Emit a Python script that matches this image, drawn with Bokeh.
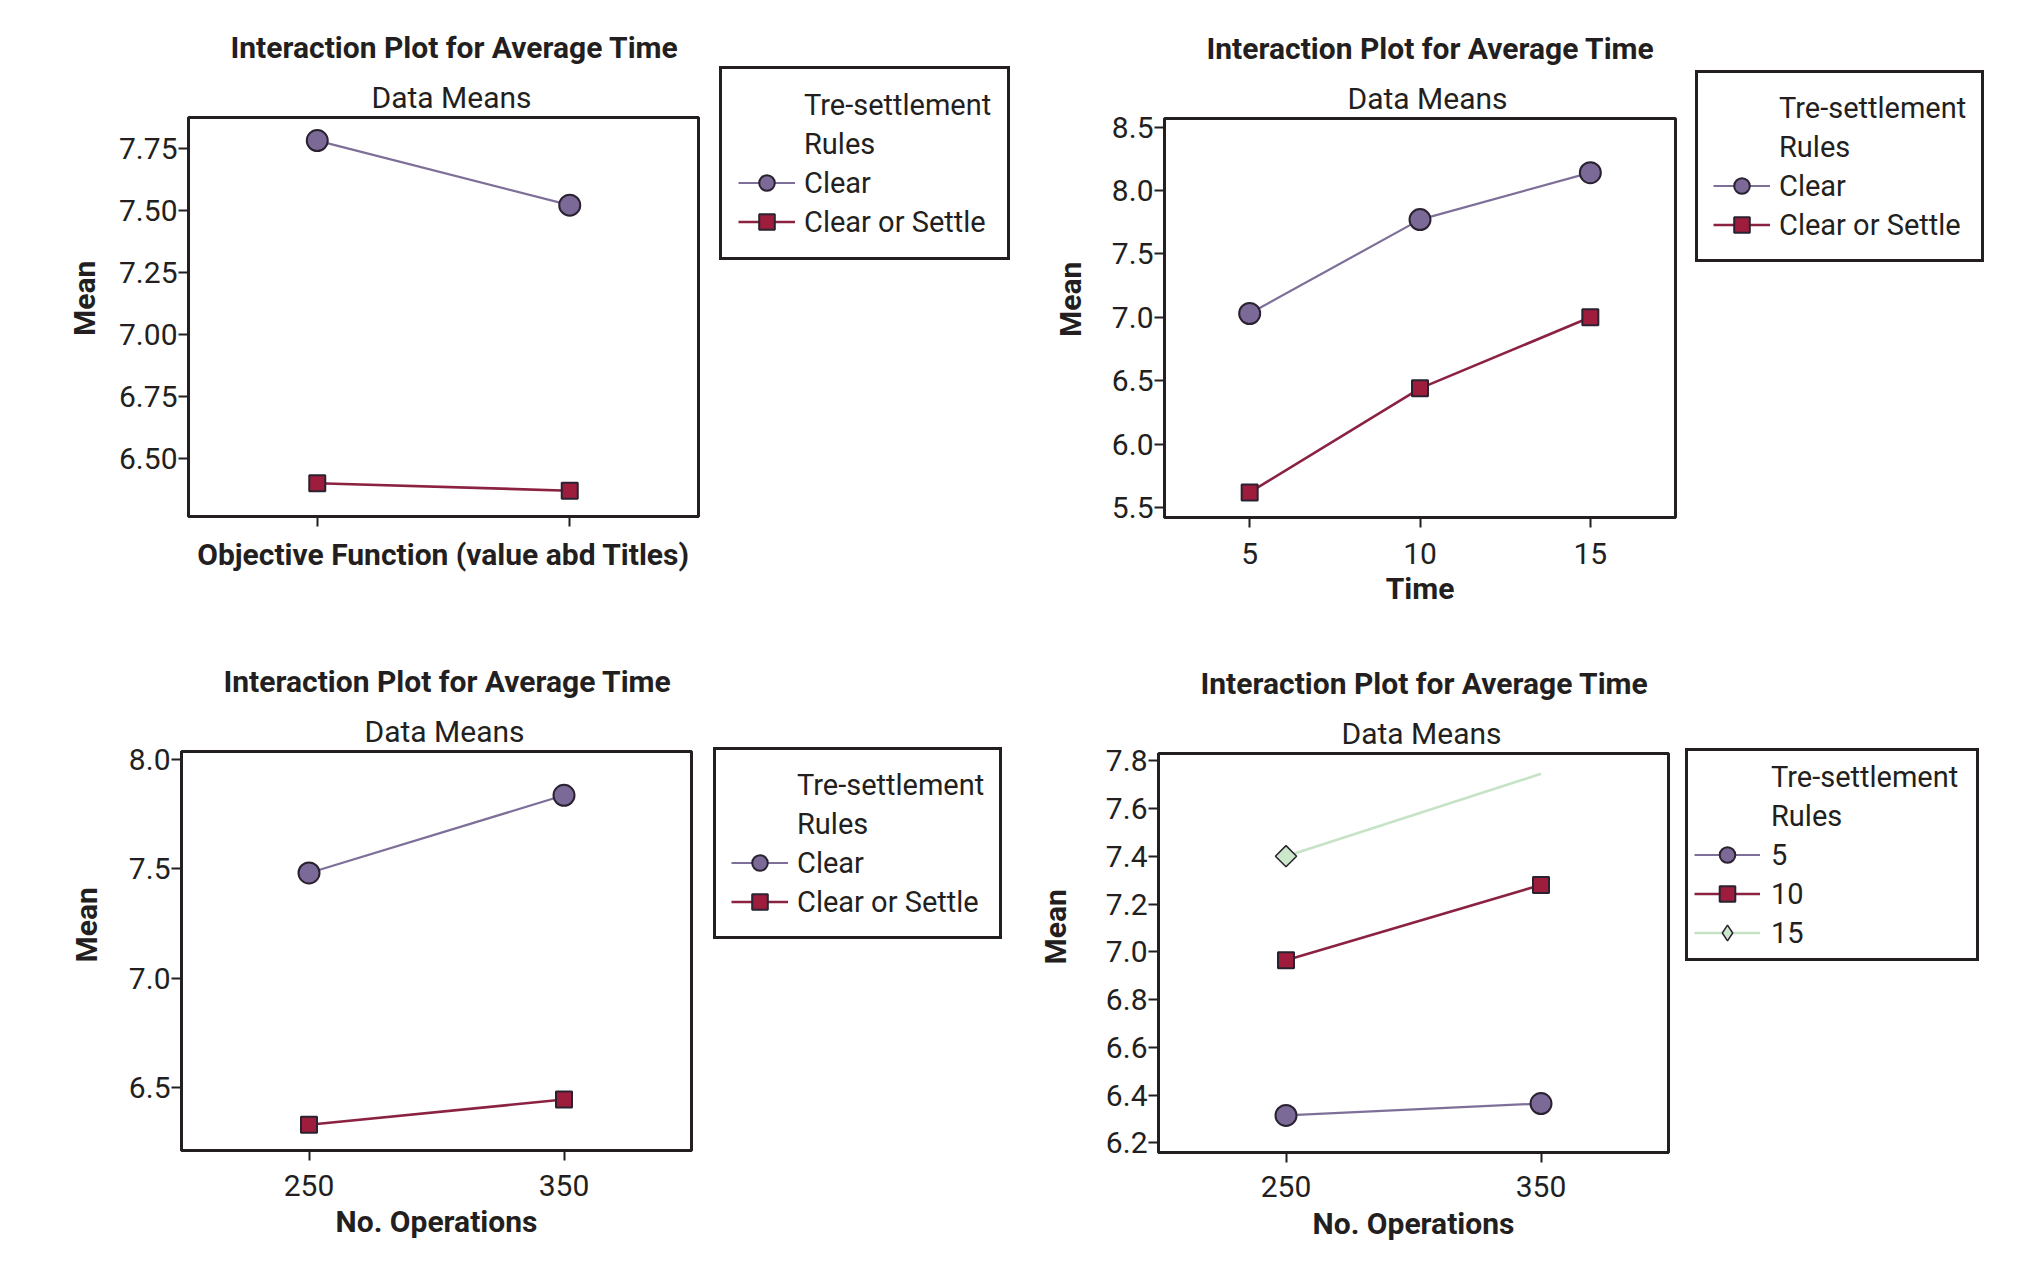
import numpy as np
from bokeh.plotting import figure
from bokeh.models import Legend, LegendItem, Title, FixedTicker, Range1d
from bokeh.layouts import row, column
from bokeh.embed import file_html
from bokeh.resources import INLINE

# ---------------- data ----------------
rule_names = ["Clear", "Clear or Settle"]
time_names = ["5", "10", "15"]
legend_title = ["Tre-settlement", "Rules"]
main_title = "Interaction Plot for Average Time"
sub_title = "Data Means"
y_title = "Mean"

# panel 1: Objective Function (two levels, unlabeled)
obj_levels = [1, 2]
p1_clear = [7.78, 7.52]
p1_settle = [6.40, 6.37]
p1_yticks = [6.50, 6.75, 7.00, 7.25, 7.50, 7.75]
p1_ylabels = ["6.50", "6.75", "7.00", "7.25", "7.50", "7.75"]
p1_xlabels = ["", ""]

# panel 2: Time
time_levels = [5, 10, 15]
p2_clear = [7.03, 7.77, 8.14]
p2_settle = [5.62, 6.44, 7.00]
p2_yticks = [5.5, 6.0, 6.5, 7.0, 7.5, 8.0, 8.5]
p2_ylabels = ["5.5", "6.0", "6.5", "7.0", "7.5", "8.0", "8.5"]
p2_xlabels = ["5", "10", "15"]

# panel 3: No. Operations by rule
ops_levels = [250, 350]
p3_clear = [7.48, 7.835]
p3_settle = [6.33, 6.445]
p3_yticks = [6.5, 7.0, 7.5, 8.0]
p3_ylabels = ["6.5", "7.0", "7.5", "8.0"]
ops_labels = ["250", "350"]

# panel 4: No. Operations by time
p4_t5 = [6.315, 6.365]
p4_t10 = [6.965, 7.28]
p4_t15 = [7.40, 7.745]
p4_t15_marked = [True, False]
p4_yticks = [6.2, 6.4, 6.6, 6.8, 7.0, 7.2, 7.4, 7.6, 7.8]
p4_ylabels = ["6.2", "6.4", "6.6", "6.8", "7.0", "7.2", "7.4", "7.6", "7.8"]

# ---------------- style ----------------
FONT = "Roboto"
FS = "30px"
LFS = "29px"
INK = "#231f20"
EDGE = "#2a2230"
PURPLE_FILL, PURPLE_LINE = "#7b6997", "#7e6f99"
RED_FILL, RED_LINE = "#9e1d3d", "#8c2242"
GREEN_FILL, GREEN_LINE = "#cbe8cb", "#c6e3c6"
NBSP = "\u00a0"

STYLE = {
    "circle": dict(marker="circle", size=21, fill_color=PURPLE_FILL, line_color=EDGE, line_width=2),
    "square": dict(marker="square", size=16, fill_color=RED_FILL, line_color=EDGE, line_width=2),
    "diamond": dict(marker="square", size=15, angle=np.pi / 4, fill_color=GREEN_FILL, line_color=EDGE, line_width=1.5),
}
# legend samples ignore the marker angle, so the rhombus is drawn with Bokeh's diamond
LEGEND_STYLE = dict(STYLE)
LEGEND_STYLE["diamond"] = dict(marker="diamond", size=15, fill_color=GREEN_FILL, line_color=EDGE, line_width=1.5)
LINE = {"circle": (PURPLE_LINE, 2.2), "square": (RED_LINE, 2.6), "diamond": (GREEN_LINE, 2.6)}
ROW_H = 640


def draw_series(fig, xs, ys, kind, mask, styles):
    lc, lw = LINE[kind]
    lr = fig.line(xs, ys, line_color=lc, line_width=lw)
    mx = [x for x, m in zip(xs, mask) if m]
    my = [y for y, m in zip(ys, mask) if m]
    sr = fig.scatter(mx, my, **styles[kind])
    return lr, sr


def panel(width, borders, xr, yr, xticks, xlabels, yticks, ylabels, xlabel,
          series, tick_standoff, xlab_standoff, ylab_standoff, ylab_lift):
    bl, br, bt, bb = borders
    p = figure(width=width, height=ROW_H, x_range=Range1d(*xr), y_range=Range1d(*yr),
               output_backend="svg", toolbar_location=None, frame_align=False,
               min_border_left=bl, min_border_right=br, min_border_top=bt, min_border_bottom=bb,
               background_fill_color="white", border_fill_color="white")
    p.grid.visible = False
    p.outline_line_color = INK
    p.outline_line_width = 3
    for ax in (p.xaxis[0], p.yaxis[0]):
        ax.axis_line_color = INK
        ax.axis_line_width = 3
        ax.major_tick_line_color = INK
        ax.major_tick_line_width = 2
        ax.major_tick_out = 10
        ax.major_tick_in = 0
        ax.minor_tick_line_color = None
        ax.major_label_text_font = FONT
        ax.major_label_text_font_size = FS
        ax.major_label_text_color = INK
        ax.axis_label_text_font = FONT
        ax.axis_label_text_font_size = FS
        ax.axis_label_text_font_style = "bold"
        ax.axis_label_text_color = INK
    p.xaxis.ticker = FixedTicker(ticks=xticks)
    p.xaxis.major_label_overrides = dict(zip(xticks, xlabels))
    p.xaxis.major_label_standoff = tick_standoff
    p.xaxis.axis_label = xlabel
    p.xaxis.axis_label_standoff = xlab_standoff
    p.yaxis.ticker = FixedTicker(ticks=yticks)
    p.yaxis.major_label_overrides = dict(zip(yticks, ylabels))
    p.yaxis.major_label_standoff = 1
    # leading no-break spaces lift the rotated label above the frame's centre, as in the original
    p.yaxis.axis_label = NBSP * ylab_lift + y_title
    p.yaxis.axis_label_standoff = ylab_standoff

    for xs, ys, kind, name, mask in series:
        draw_series(p, xs, ys, kind, mask, STYLE)

    p.add_layout(Title(text=sub_title, align="left", offset=183, standoff=6, text_font=FONT,
                       text_font_size=FS, text_font_style="normal", text_color=INK), "above")
    p.add_layout(Title(text=main_title, align="left", offset=42, standoff=19, text_font=FONT,
                       text_font_size=FS, text_font_style="bold", text_color=INK), "above")
    return p


def legend_box(width, series, loc, pad, gw, stand, lwid):
    # legend samples live in a side canvas; their data lie outside its (0..1) view
    f = figure(width=width, height=ROW_H, x_range=Range1d(0, 1), y_range=Range1d(0, 1),
               output_backend="svg", toolbar_location=None, x_axis_type=None, y_axis_type=None,
               frame_align=False,
               min_border_left=0, min_border_right=0, min_border_top=0, min_border_bottom=0,
               background_fill_color="white", border_fill_color="white")
    f.grid.visible = False
    f.outline_line_color = None
    xs0, ys0 = series[0][0], series[0][1]
    blank = f.line(xs0, ys0, line_alpha=0)
    items = [LegendItem(label=t, renderers=[blank]) for t in legend_title]
    for xs, ys, kind, name, mask in series:
        lr, sr = draw_series(f, xs, ys, kind, mask, LEGEND_STYLE)
        items.append(LegendItem(label=name, renderers=[lr, sr]))
    leg = Legend(items=items, location=loc, padding=pad, spacing=0, margin=0,
                 glyph_width=gw, glyph_height=39, label_standoff=stand, label_width=lwid,
                 label_text_font=FONT, label_text_font_size=LFS, label_text_color=INK,
                 label_text_baseline="middle",
                 border_line_color=INK, border_line_width=3, border_line_alpha=1.0,
                 background_fill_color="white", background_fill_alpha=1.0)
    f.add_layout(leg, "center")
    return f


all_on = lambda xs: [True] * len(xs)

s1 = [(obj_levels, p1_clear, "circle", rule_names[0], all_on(obj_levels)),
      (obj_levels, p1_settle, "square", rule_names[1], all_on(obj_levels))]
s2 = [(time_levels, p2_clear, "circle", rule_names[0], all_on(time_levels)),
      (time_levels, p2_settle, "square", rule_names[1], all_on(time_levels))]
s3 = [(ops_levels, p3_clear, "circle", rule_names[0], all_on(ops_levels)),
      (ops_levels, p3_settle, "square", rule_names[1], all_on(ops_levels))]
s4 = [(ops_levels, p4_t5, "circle", time_names[0], all_on(ops_levels)),
      (ops_levels, p4_t10, "square", time_names[1], all_on(ops_levels)),
      (ops_levels, p4_t15, "diamond", time_names[2], p4_t15_marked)]

p1 = panel(708, (188, 10, 117, ROW_H - 117 - 399), (0.49, 2.51), (6.266, 7.873),
           obj_levels, p1_xlabels, p1_yticks, p1_ylabels, "Objective Function (value abd Titles)",
           s1, 5, 10, 14, 5)
l1 = legend_box(310, s1, (11, ROW_H - 260), 16, 57, 9, 180)

p2 = panel(667, (146, 10, 118, ROW_H - 118 - 399), (2.5, 17.5), (5.422, 8.567),
           time_levels, p2_xlabels, p2_yticks, p2_ylabels, "Time",
           s2, 15, 4, 21, 5)
l2 = legend_box(330, s2, (10, ROW_H - 262), 15, 57, 9, 180)

p3 = panel(701, (181, 10, 111, ROW_H - 111 - 399), (200, 400), (6.212, 8.035),
           ops_levels, ops_labels, p3_yticks, p3_ylabels, "No. Operations",
           s3, 14, 5, 22, 7)
l3 = legend_box(310, s3, (12, ROW_H - 299), 15, 57, 9, 180)

p4 = panel(667, (147, 10, 113, ROW_H - 113 - 399), (200, 400), (6.16, 7.83),
           ops_levels, ops_labels, p4_yticks, p4_ylabels, "No. Operations",
           s4, 13, 6, 30, 7)
l4 = legend_box(330, s4, (7, ROW_H - 321), 6, 66, 11, 199)

layout = column(row(p1, l1, p2, l2), row(p3, l3, p4, l4))
open("out.html", "w").write(file_html(layout, INLINE))
